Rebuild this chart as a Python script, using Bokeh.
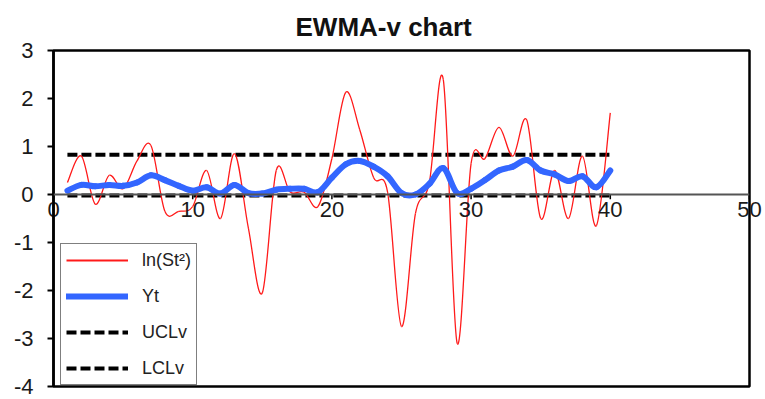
import numpy as np
from bokeh.plotting import figure
from bokeh.models import (Legend, LegendItem, Span, ColumnDataSource, Title,
                          FixedTicker, Range1d, LinearAxis)
from bokeh.embed import file_html
from bokeh.resources import INLINE

# ---------------- data ----------------
sample = list(range(1, 41))
ln_st2 = [0.25, 0.8, -0.2, 0.4, 0.12, 0.7, 1.02, -0.35, -0.35, -0.25,
          0.5, -0.5, 0.85, -0.7, -2.05, 0.5, 0.05, 0.05, -0.25, 0.75,
          2.13, 1.35, 0.35, 0.05, -2.75, -0.4, 0.25, 2.4, -3.1, 0.65,
          0.75, 1.4, 0.8, 1.55, -0.5, 0.5, -0.5, 0.8, -0.65, 1.7]
yt = [0.08, 0.2, 0.17, 0.2, 0.18, 0.25, 0.4, 0.3, 0.18, 0.08,
      0.15, 0.02, 0.2, 0.03, 0.02, 0.1, 0.12, 0.12, 0.05, 0.35,
      0.63, 0.7, 0.58, 0.38, 0.03, 0.0, 0.22, 0.55, 0.03, 0.12,
      0.3, 0.5, 0.58, 0.72, 0.5, 0.42, 0.28, 0.38, 0.15, 0.5]
ucl_value = 0.83
lcl_value = -0.02
ucl = [ucl_value for _ in sample]
lcl = [lcl_value for _ in sample]

x_ticks = [0, 10, 20, 30, 40, 50]
x_tick_labels = ["0", "10", "20", "30", "40", "50"]
y_ticks = [-4, -3, -2, -1, 0, 1, 2, 3]
y_tick_labels = ["-4", "-3", "-2", "-1", "0", "1", "2", "3"]

FONT = "Liberation Sans"
RED = "#FF1A1A"
BLUE = "#3366FF"


def smooth_segments(xs, ys):
    """Bezier control points for an Excel-like smoothed line through the data."""
    n = len(xs)
    d = dict(x0=[], y0=[], x1=[], y1=[], cx0=[], cy0=[], cx1=[], cy1=[])
    for i in range(n - 1):
        a = i - 1 if i > 0 else i
        b = i + 2 if i + 2 < n else i + 1
        d["x0"].append(xs[i]); d["y0"].append(ys[i])
        d["x1"].append(xs[i + 1]); d["y1"].append(ys[i + 1])
        d["cx0"].append(xs[i] + (xs[i + 1] - xs[a]) / 6.0)
        d["cy0"].append(ys[i] + (ys[i + 1] - ys[a]) / 6.0)
        d["cx1"].append(xs[i + 1] - (xs[b] - xs[i]) / 6.0)
        d["cy1"].append(ys[i + 1] - (ys[b] - ys[i]) / 6.0)
    return ColumnDataSource(d)


p = figure(width=765, height=399, output_backend="svg", toolbar_location=None,
           x_range=Range1d(0, 50), y_range=Range1d(-4, 3),
           x_axis_location=None, min_border_left=53, min_border_right=16,
           min_border_top=48, min_border_bottom=13)

p.title = Title(text="EWMA-v chart", align="left", offset=242,
                text_font_size="26px", text_font_style="bold",
                text_font=FONT, text_color="#111111", standoff=18)

p.grid.visible = False
p.outline_line_color = "black"
p.outline_line_width = 2.5
p.background_fill_color = "white"
p.border_fill_color = "white"

ax = p.yaxis[0]
ax.ticker = FixedTicker(ticks=y_ticks)
ax.major_label_overrides = dict(zip(y_ticks, y_tick_labels))
ax.axis_line_width = 2.5
ax.axis_line_color = "black"
ax.major_tick_line_width = 2
ax.major_tick_line_color = "black"
ax.major_tick_out = 6
ax.major_tick_in = 0
ax.minor_tick_line_color = None
ax.major_label_standoff = 14
ax.major_label_text_font_size = "22px"
ax.major_label_text_font = FONT
ax.major_label_text_color = "#1a1a1a"

# x axis crossing at y = 0: line + ticks in the frame, labels from a
# bottom axis whose labels are lifted up to sit just below y = 0
p.add_layout(Span(location=0, dimension="width", line_color="#555555",
                  line_width=2))
tick_len = 0.1
p.segment(x0=x_ticks, y0=[0] * len(x_ticks), x1=x_ticks,
          y1=[-tick_len] * len(x_ticks), line_color="black", line_width=1.5)
xax = LinearAxis(ticker=FixedTicker(ticks=x_ticks),
                 major_label_overrides=dict(zip(x_ticks, x_tick_labels)),
                 axis_line_color=None, major_tick_line_color=None,
                 minor_tick_line_color=None, major_tick_out=0,
                 major_tick_in=0, major_label_standoff=-185,
                 major_label_text_font_size="22px",
                 major_label_text_font=FONT,
                 major_label_text_color="#1a1a1a")
p.add_layout(xax, "below")

# control limits
r_ucl = p.line(sample, ucl, line_color="black", line_width=4,
               line_dash="10 4")
r_lcl = p.line(sample, lcl, line_color="black", line_width=4,
               line_dash="10 4")

# smoothed series
p.bezier(x0="x0", y0="y0", x1="x1", y1="y1", cx0="cx0", cy0="cy0",
         cx1="cx1", cy1="cy1", source=smooth_segments(sample, ln_st2),
         line_color=RED, line_width=1.3)
p.bezier(x0="x0", y0="y0", x1="x1", y1="y1", cx0="cx0", cy0="cy0",
         cx1="cx1", cy1="cy1", source=smooth_segments(sample, yt),
         line_color=BLUE, line_width=6, line_cap="round", line_join="round")

# legend proxies (hidden renderers, shown only in the legend)
r_red = p.line(sample, ln_st2, line_color=RED, line_width=2, visible=False)
r_blue = p.line(sample, yt, line_color=BLUE, line_width=6, line_cap="round",
                visible=False)

legend = Legend(items=[LegendItem(label="ln(St²)", renderers=[r_red]),
                       LegendItem(label="Yt", renderers=[r_blue]),
                       LegendItem(label="UCLv", renderers=[r_ucl]),
                       LegendItem(label="LCLv", renderers=[r_lcl])],
                location=(7, 1), orientation="vertical",
                border_line_color="black", border_line_width=1.5,
                background_fill_color="white", background_fill_alpha=1,
                glyph_width=62, glyph_height=22, label_height=22,
                label_standoff=14, spacing=14, padding=5, margin=0,
                label_text_font_size="18px", label_text_font=FONT,
                label_text_color="#222222")
p.add_layout(legend, "center")

open("out.html", "w").write(file_html(p, INLINE))
